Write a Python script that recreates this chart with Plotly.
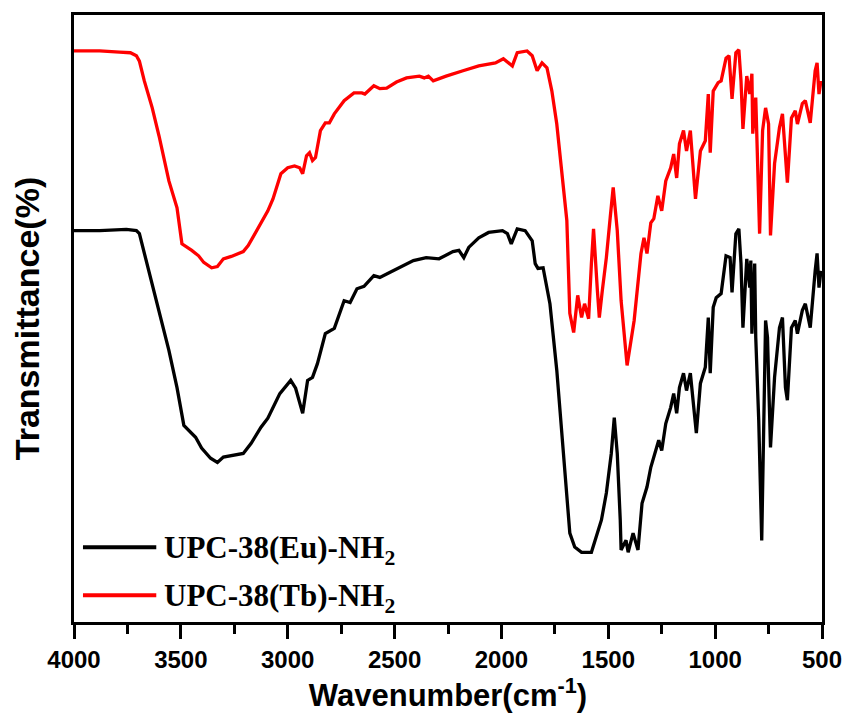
import plotly.graph_objects as go

# UPC-38(Eu)-NH2 (black)
eu_wn = [4000, 3880, 3755, 3708, 3694, 3671, 3648, 3602, 3556, 3518, 3500, 3486, 3431, 3403, 3361, 3329,
         3301, 3208, 3171, 3125, 3093, 3037, 2986, 2963, 2930, 2907, 2884, 2861, 2824, 2782, 2736, 2708,
         2676, 2643, 2597, 2569, 2523, 2458, 2412, 2352, 2292, 2227, 2199, 2176, 2153, 2106, 2060, 1995,
         1972, 1954, 1926, 1889, 1856, 1842, 1829, 1805, 1773, 1741, 1717, 1694, 1680, 1657, 1625, 1579,
         1555, 1532, 1509, 1486, 1472, 1458, 1444, 1440, 1417, 1407, 1384, 1361, 1342, 1319, 1301, 1278,
         1264, 1250, 1231, 1208, 1194, 1180, 1167, 1148, 1134, 1116, 1092, 1088, 1069, 1046, 1032, 1023,
         1009, 995, 972, 949, 930, 921, 903, 889, 879, 870, 852, 838, 833, 828, 815, 810,
         796, 782, 764, 755, 741, 722, 699, 685, 671, 662, 643, 625, 615, 592, 578, 555,
         532, 523, 514, 505]
eu_t = [65.0, 65.0, 65.2, 65.0, 64.5, 61.2, 58.3, 51.7, 45.0, 38.8, 35.5, 32.5, 30.5, 28.7, 27.0, 26.3,
        27.2, 27.8, 29.5, 32.2, 33.7, 37.8, 40.0, 38.7, 34.5, 40.0, 40.5, 42.8, 47.8, 48.7, 53.3, 53.0,
        55.3, 55.7, 57.5, 57.2, 58.0, 59.2, 60.0, 60.5, 60.3, 61.5, 61.7, 60.5, 62.2, 63.8, 64.7, 65.0,
        64.5, 62.8, 65.3, 65.0, 63.3, 59.5, 58.7, 58.8, 52.8, 41.7, 30.5, 19.5, 14.5, 12.2, 11.3, 11.3,
        14.2, 16.7, 21.2, 27.8, 33.8, 27.8, 16.7, 11.7, 13.3, 11.3, 14.5, 11.7, 19.5, 22.2, 25.5, 28.3,
        30.0, 28.3, 32.8, 35.5, 37.8, 34.5, 38.8, 41.2, 38.3, 41.2, 31.7, 31.2, 39.5, 42.2, 50.5, 41.2,
        52.2, 53.8, 54.5, 60.8, 60.5, 54.7, 64.5, 65.3, 59.5, 48.8, 60.3, 55.5, 60.0, 47.8, 59.5, 47.2,
        33.3, 13.3, 50.0, 47.2, 28.8, 40.5, 48.8, 50.5, 38.8, 36.7, 48.8, 50.0, 47.8, 51.7, 52.8, 48.8,
        58.3, 61.2, 55.5, 58.3]

# UPC-38(Tb)-NH2 (red)
tb_wn = [4000, 3880, 3787, 3736, 3708, 3694, 3671, 3634, 3602, 3556, 3518, 3495, 3449, 3417, 3393, 3356,
         3329, 3301, 3264, 3208, 3185, 3139, 3093, 3069, 3032, 3000, 2968, 2944, 2930, 2912, 2898, 2884,
         2870, 2847, 2824, 2805, 2782, 2736, 2690, 2653, 2639, 2597, 2569, 2537, 2491, 2444, 2384, 2361,
         2342, 2319, 2259, 2180, 2106, 2028, 1991, 1949, 1926, 1880, 1856, 1833, 1810, 1787, 1764, 1741,
         1717, 1694, 1680, 1662, 1643, 1625, 1611, 1592, 1579, 1569, 1551, 1542, 1528, 1509, 1491, 1477,
         1458, 1440, 1412, 1379, 1347, 1333, 1319, 1301, 1287, 1268, 1250, 1231, 1208, 1194, 1180, 1167,
         1148, 1134, 1116, 1092, 1069, 1046, 1032, 1023, 1009, 986, 972, 949, 935, 921, 903, 889,
         879, 870, 852, 838, 828, 824, 810, 801, 792, 778, 764, 750, 741, 722, 699, 685,
         671, 662, 643, 625, 615, 592, 578, 555, 532, 523, 514, 505]
tb_t = [95.0, 95.0, 94.8, 94.7, 94.2, 93.3, 90.0, 85.5, 80.8, 73.3, 68.8, 62.8, 61.7, 60.8, 59.7, 58.8,
        59.0, 60.3, 60.7, 61.5, 62.5, 65.5, 68.3, 70.3, 74.5, 75.5, 75.8, 75.5, 74.5, 77.5, 78.0, 76.7,
        77.2, 81.7, 83.0, 83.0, 84.5, 86.7, 88.0, 88.0, 87.8, 89.2, 88.7, 88.8, 89.8, 90.5, 90.8, 90.5,
        90.8, 90.0, 90.8, 91.7, 92.5, 93.0, 93.7, 92.5, 94.7, 95.0, 94.2, 91.7, 93.0, 92.2, 88.3, 82.8,
        75.0, 66.7, 51.2, 48.0, 54.2, 50.5, 52.8, 50.3, 59.5, 65.3, 55.0, 50.5, 55.0, 60.5, 67.2, 72.2,
        65.0, 53.3, 42.5, 50.0, 61.2, 63.8, 61.2, 66.3, 67.0, 70.8, 68.3, 73.3, 75.5, 77.8, 73.8, 79.5,
        81.7, 78.3, 81.7, 70.3, 78.3, 80.0, 87.8, 78.0, 88.3, 89.7, 90.0, 93.8, 94.2, 87.0, 94.7, 95.2,
        90.0, 82.0, 90.8, 87.8, 91.2, 81.2, 87.2, 76.2, 64.5, 81.7, 85.5, 82.8, 64.2, 76.2, 82.2, 84.5,
        76.2, 73.0, 83.8, 85.0, 82.8, 86.2, 86.7, 83.0, 91.7, 93.0, 87.8, 90.0]

x_ticks = [4000, 3500, 3000, 2500, 2000, 1500, 1000, 500]
series_names = ["UPC-38(Eu)-NH<sub>2</sub>", "UPC-38(Tb)-NH<sub>2</sub>"]
series_colors = ["black", "#ff0000"]

fig = go.Figure()
fig.add_trace(go.Scatter(x=eu_wn, y=eu_t, mode="lines", name=series_names[0],
                         line=dict(color=series_colors[0], width=3.3)))
fig.add_trace(go.Scatter(x=tb_wn, y=tb_t, mode="lines", name=series_names[1],
                         line=dict(color=series_colors[1], width=3.3)))

# hand-made legend (long sample lines, as in the original)
legend_y = [0.123, 0.044]
for name, col, ly in zip(series_names, series_colors, legend_y):
    fig.add_shape(type="line", xref="paper", yref="paper", x0=0.012, x1=0.110, y0=ly, y1=ly,
                  line=dict(color=col, width=4))
    fig.add_annotation(xref="paper", yref="paper", x=0.118, y=ly - 0.004, xanchor="left", yanchor="middle",
                       text=name, showarrow=False,
                       font=dict(family="Liberation Serif", size=31, color="black", weight="bold"))

fig.update_layout(
    width=854, height=716,
    margin=dict(l=74, r=24, t=14, b=94),
    plot_bgcolor="white", paper_bgcolor="white",
    showlegend=False,
)
fig.update_xaxes(
    range=[4000, 500], tickvals=x_ticks, ticktext=[str(v) for v in x_ticks],
    showgrid=False, zeroline=False,
    showline=True, linecolor="black", linewidth=3, mirror=True,
    ticks="outside", ticklen=14, tickwidth=3, tickcolor="black",
    minor=dict(dtick=250, ticks="outside", ticklen=9, tickwidth=3, tickcolor="black", showgrid=False),
    tickfont=dict(family="Liberation Sans", size=24, color="black", weight="bold"),
    title=dict(text="Wavenumber(cm<sup>-1</sup>)", standoff=6,
               font=dict(family="Liberation Sans", size=31, color="black", weight="bold")),
)
fig.update_yaxes(
    range=[-0.33, 101], showticklabels=False, ticks="",
    showgrid=False, zeroline=False,
    showline=True, linecolor="black", linewidth=3, mirror=True,
    title=dict(text="Transmittance(%)", standoff=22,
               font=dict(family="Liberation Sans", size=34, color="black", weight="bold")),
)

fig.write_html("out.html")
